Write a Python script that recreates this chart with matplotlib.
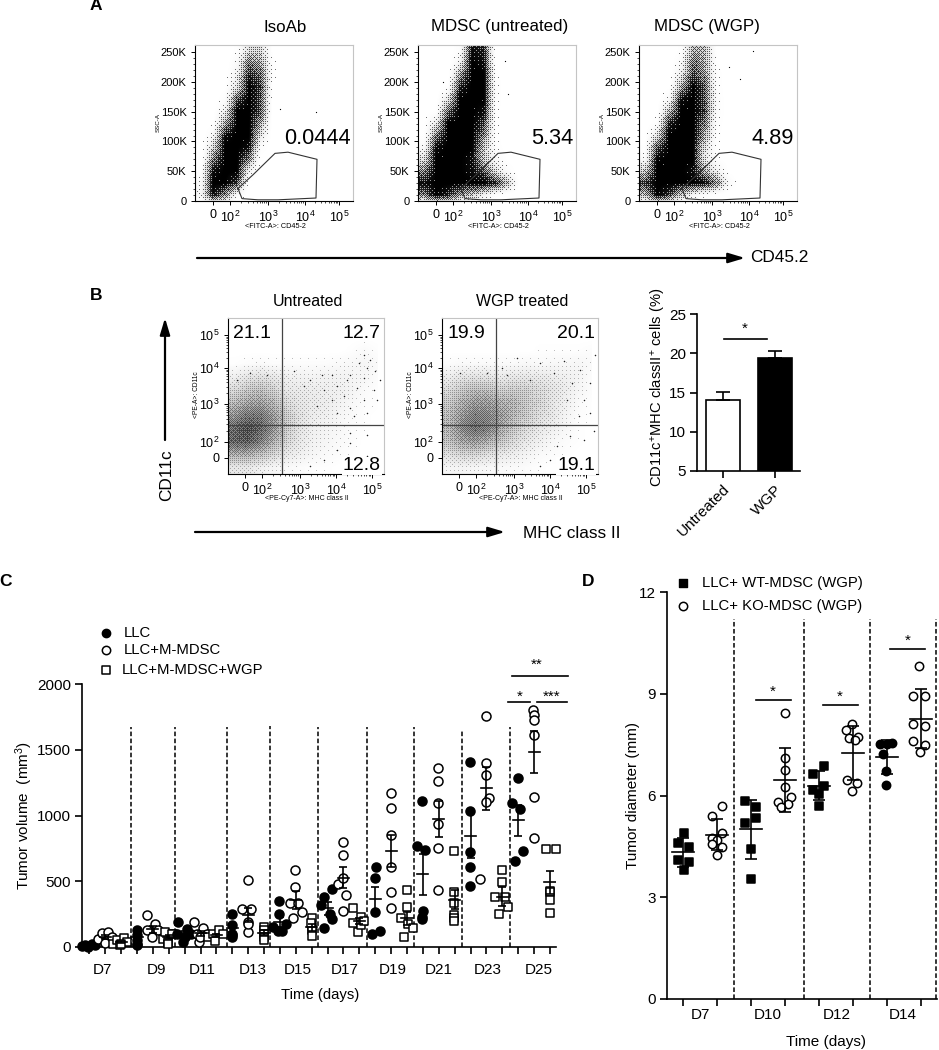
import numpy as np
import matplotlib
matplotlib.use('Agg')
import matplotlib.pyplot as plt

plt.rcParams['font.family'] = ['Liberation Sans', 'DejaVu Sans']
plt.rcParams['mathtext.fontset'] = 'custom'
plt.rcParams['mathtext.rm'] = 'Liberation Sans'
plt.rcParams['mathtext.default'] = 'regular'

W, H = 939, 1050

# panel A: ink coverage of the event cloud, cells of 12 px, top row first
a_titles = ['IsoAb', 'MDSC (untreated)', 'MDSC (WGP)']
a_numbers = ['0.0444', '5.34', '4.89']
cover_iso = [
    [0, 0, 0, .1, .45, .45, .05, 0, 0, 0],
    [0, 0, 0, .2, .75, .6, .1, 0, 0, 0],
    [0, 0, 0, .3, .9, .75, .1, 0, 0, 0],
    [0, 0, .05, .4, 1, .85, .05, 0, 0, 0],
    [0, 0, .15, .8, 1, .8, .03, 0, 0, 0],
    [0, .03, .3, 1, 1, .8, .02, 0, 0, 0],
    [0, .06, .6, 1, 1, .6, .01, 0, 0, 0],
    [0, .2, .95, 1, 1, .4, .01, 0, 0, 0],
    [0, .45, 1, 1, .95, .15, 0, 0, 0, 0],
    [.02, .7, 1, 1, .7, .03, 0, 0, 0, 0],
    [.1, .95, 1, 1, .3, 0, 0, 0, 0, 0],
    [.2, 1, 1, .85, .05, 0, 0, 0, 0, 0],
    [.25, .95, .7, .2, .01, 0, 0, 0, 0, 0],
]
cover_untreated = [
    [0, 0, 0, .15, .95, .9, .03, 0, 0, 0],
    [0, 0, 0, .3, 1, .95, .05, 0, 0, 0],
    [0, 0, .02, .65, 1, 1, .1, .01, 0, 0],
    [0, .01, .1, .9, 1, 1, .12, .01, 0, 0],
    [0, .03, .4, 1, 1, 1, .12, .01, 0, 0],
    [.02, .08, .75, 1, 1, .95, .1, .01, 0, 0],
    [.04, .35, 1, 1, 1, .85, .1, .01, 0, 0],
    [.06, .7, 1, 1, 1, .7, .1, .01, 0, 0],
    [.2, .95, 1, 1, 1, .5, .12, .02, 0, 0],
    [.4, 1, 1, 1, .95, .5, .2, .05, 0, 0],
    [.7, 1, 1, 1, .95, .8, .4, .15, .01, 0],
    [.95, 1, 1, 1, 1, 1, .9, .55, .03, 0],
    [.7, 1, .9, .65, .5, .3, .1, .02, 0, 0],
]
cover_wgp = [
    [0, 0, 0, .1, .6, .55, .05, 0, 0, 0],
    [0, 0, 0, .2, .75, .6, .08, 0, 0, 0],
    [0, 0, .01, .35, .85, .65, .12, .01, 0, 0],
    [0, 0, .05, .6, 1, .8, .12, .01, 0, 0],
    [0, .02, .2, .95, 1, .8, .15, .01, 0, 0],
    [0, .05, .55, 1, 1, .85, .15, .02, 0, 0],
    [.01, .12, .9, 1, 1, .7, .12, .01, 0, 0],
    [.03, .4, 1, 1, 1, .6, .1, .01, 0, 0],
    [.08, .8, 1, 1, 1, .4, .08, .01, 0, 0],
    [.2, .98, 1, 1, 1, .35, .1, .02, 0, 0],
    [.5, 1, 1, 1, .95, .6, .3, .05, 0, 0],
    [.85, 1, 1, 1, 1, .95, .7, .2, 0, 0],
    [.55, 1, .85, .5, .25, .12, .04, .01, 0, 0],
]
a_stray_x = [[85, 121], [52, 25, 87, 90], [114, 90, 101]]
a_stray_y = [[155, 150], [240, 200, 235, 180], [252, 225, 205]]
a_gate = [(43, 21), (58, 44), (80, 80), (93, 82), (122, 70), (121, 5), (83, 2), (63, 2), (47, 4), (43, 21)]
flow_xticks = [18, 35, 73, 110, 144]
flow_xlabels = ['0', '$10^2$', '$10^3$', '$10^4$', '$10^5$']

# panel B: same idea, 12 x 12 cells of 13 px
b_titles = ['Untreated', 'WGP treated']
density_untreated = [
    [0, 0, 0, 0, 0, 0, 0, 0, 0, 0, 0, 0],
    [0, 0, 0, 0, 0, 0, 0, 0, 0, 0, 0, 0],
    [0, 0, 0, 0, 0, 0, 0, 0, 0, .01, .03, .01],
    [.01, .02, .03, .02, .02, .02, .02, .02, .03, .04, .05, .03],
    [.08, .13, .15, .12, .08, .07, .06, .07, .07, .06, .05, .02],
    [.18, .25, .28, .22, .12, .11, .10, .09, .08, .06, .03, .01],
    [.30, .38, .40, .32, .18, .13, .11, .10, .07, .04, .02, .01],
    [.45, .55, .55, .42, .24, .15, .10, .08, .05, .03, .01, 0],
    [.60, .70, .62, .45, .25, .14, .08, .06, .04, .02, .01, 0],
    [.62, .65, .52, .35, .20, .12, .07, .05, .03, .02, 0, 0],
    [.35, .35, .28, .20, .12, .08, .05, .03, .02, .01, 0, 0],
    [.12, .12, .08, .05, .03, .02, .01, .01, 0, 0, 0, 0],
]
density_wgp = [
    [0, 0, 0, 0, 0, 0, 0, 0, 0, 0, 0, 0],
    [0, 0, 0, 0, 0, 0, 0, 0, 0, 0, 0, 0],
    [0, 0, 0, 0, 0, 0, 0, .01, .01, .01, .01, .02],
    [.02, .03, .03, .03, .03, .03, .04, .03, .04, .04, .05, .03],
    [.09, .13, .14, .14, .10, .12, .12, .11, .10, .08, .06, .02],
    [.18, .25, .30, .28, .22, .24, .22, .18, .14, .10, .05, .02],
    [.25, .35, .42, .42, .35, .32, .25, .20, .13, .08, .03, .01],
    [.30, .42, .52, .50, .42, .32, .24, .17, .12, .06, .02, .01],
    [.32, .48, .58, .52, .38, .26, .18, .12, .08, .04, .01, 0],
    [.28, .38, .42, .35, .26, .18, .12, .08, .04, .02, .01, 0],
    [.16, .20, .20, .16, .12, .09, .06, .03, .02, .01, 0, 0],
    [.05, .06, .05, .04, .03, .03, .02, .01, 0, 0, 0, 0],
]
# single dots that can be told apart in the sparse parts of panel B
dots_untreated_x = [136, 142, 131, 139, 147, 122, 66, 94, 104, 82, 119, 136, 152, 109, 129, 146, 96, 76, 116,
                    136, 149, 104, 122, 89, 139, 126, 109, 139, 122, 139, 109, 96, 82, 122, 39, 22, 9]
dots_untreated_y = [119, 114, 111, 106, 103, 99, 103, 99, 99, 94, 94, 96, 94, 88, 86, 84, 84, 88, 78,
                    74, 74, 74, 66, 68, 61, 58, 61, 39, 31, 18, 24, 14, 8, 41, 99, 101, 94]
dots_wgp_x = [75, 122, 153, 98, 138, 60, 45, 18, 112, 148, 130, 88, 65, 142, 125, 148, 137, 128, 115, 142,
              108, 98, 152]
dots_wgp_y = [116, 113, 119, 111, 104, 106, 101, 101, 101, 91, 91, 94, 99, 74, 74, 61, 58, 38, 28, 34,
              14, 8, 43]
b_numbers = [['21.1', '12.7', '12.8'], ['19.9', '20.1', '19.1']]

bar_names = ['Untreated', 'WGP']
bar_values = [14.0, 19.4]
bar_errs = [1.1, 0.9]

# panel C: one list per column, order LLC / LLC+M-MDSC / LLC+M-MDSC+WGP
c_x = [
    [-.48, -.27, -.06, .15, .36], [.57, .78, 1.15, .99, 1.41], [1.51, 1.72, 2.18, 1.93, 2.39, 1.97],
    [3, 3, 3, 3, 3], [3.61, 3.61, 4.13, 3.92, 4.34], [4.66, 4.76, 4.97, 5.29, 4.97, 5.18],
    [5.6, 5.92, 6.13, 6.38, 5.5, 6.02], [6.61, 7.17, 6.9, 6.75, 7.38, 6.96], [7.49, 7.8, 8.18, 7.91, 8.39],
    [9, 9, 9, 9, 9], [9.59, 10.15, 9.96, 9.96, 9.96, 10], [11, 11, 11, 11, 11],
    [11.96, 11.96, 11.58, 11.9, 12.38, 12.1], [12.94, 12.94, 13.36, 12.8, 12.63, 13.15],
    [13.99, 13.99, 13.99, 13.99, 13.93],
    [14.6, 14.8, 15.3, 14.8, 15.15, 15.3], [15.98, 15.98, 15.63, 15.98, 16.13, 15.98],
    [16.61, 16.61, 16.89, 17.1, 17.1, 17.29],
    [18.02, 17.98, 17.98, 17.81, 18.33], [18.98] * 6, [19.97, 19.97, 19.6, 20.07, 20.35, 19.8],
    [20.6, 21.12, 20.97, 21.02, 20.97, 20.97], [21.96] * 6, [22.97] * 6,
    [23.96] * 5, [24.96, 24.96, 24.96, 24.59, 25.17, 24.96], [25.97, 25.97, 25.53, 26.16, 26.37, 25.8],
    [26.98, 26.58, 27.12, 27.31, 26.83], [27.94, 28, 27.98, 27.98, 27.98, 27.98],
    [28.78, 29.35, 28.99, 28.99, 28.99, 28.99],
]
c_y = [
    [5, 12, 0, 25, 12], [63, 109, 114, 33, 76], [25, 50, 71, 13, 38, 25],
    [127, 89, 56, 25, 13], [241, 127, 177, 76, 127], [63, 114, 38, 101, 25, 101],
    [190, 38, 139, 101, 101, 76], [190, 147, 38, 101, 101, 76], [76, 101, 127, 46, 101],
    [253, 165, 101, 76, 89], [292, 286, 507, 190, 114, 177], [152, 127, 101, 76, 56],
    [347, 248, 152, 119, 177, 119], [585, 458, 268, 223, 332, 332], [218, 155, 129, 86, 180],
    [319, 383, 441, 147, 251, 210], [801, 700, 476, 522, 395, 276], [294, 180, 117, 231, 167, 200],
    [611, 527, 268, 99, 124], [1173, 1059, 851, 611, 415, 299], [433, 302, 218, 172, 142, 73],
    [768, 738, 1113, 274, 210, 231], [1364, 1262, 1098, 932, 753, 433], [727, 421, 332, 243, 223, 200],
    [1409, 1034, 720, 606, 464], [1759, 1402, 1308, 519, 1130, 1105], [585, 492, 383, 383, 307, 248],
    [1282, 1092, 1049, 730, 656], [1802, 1764, 1726, 1612, 1143, 829], [742, 742, 428, 421, 357, 256],
]
c_mean = [12, 75, 40, 75, 135, 75, 105, 105, 90, 145, 245, 110, 190, 357, 150,
          294, 527, 197, 362, 732, 218, 552, 973, 360, 846, 1206, 383, 963, 1480, 491]
c_err = [4, 15, 8, 20, 25, 15, 20, 20, 12, 30, 55, 16, 35, 70, 25,
         48, 82, 25, 91, 120, 48, 155, 135, 70, 170, 165, 70, 118, 160, 88]
c_days = ['D7', 'D9', 'D11', 'D13', 'D15', 'D17', 'D19', 'D21', 'D23', 'D25']
c_day_x = [.85, 4.25, 7.1, 10.3, 13.1, 16.1, 19.1, 22, 25.1, 28.3]
c_dash_x = [2.6, 5.39, 8.65, 11.37, 14.37, 17.5, 20.45, 23.44, 26.48]
c_dash_top = [1670, 1670, 1675, 1680, 1670, 1670, 1670, 1650, 1675]

# panel D: WT and KO columns alternate
d_x = [
    [.02, -.15, .17, -.15, .17, .02], [1.14, .85, 1.14, .85, 1, .85, 1.14, 1],
    [1.83, 2.16, 2.16, 1.83, 2.01, 2.01], [2.99, 2.99, 2.99, 2.99, 3.17, 2.8, 3.09, 2.89],
    [4.14, 3.82, 4.16, 3.82, 3.99, 3.99], [4.97, 4.79, 5.14, 4.87, 5.06, 4.82, 5.13, 4.97],
    [5.79, 6.14, 5.99, 5.89, 5.97, 5.97], [6.94, 6.77, 7.13, 6.77, 7.13, 6.77, 7.13, 6.96],
]
d_y = [
    [4.89, 4.59, 4.48, 4.10, 4.03, 3.81], [5.69, 5.41, 4.89, 4.74, 4.69, 4.56, 4.49, 4.25],
    [5.85, 5.66, 5.35, 5.18, 4.42, 3.54], [8.43, 7.10, 6.76, 6.24, 5.97, 5.80, 5.75, 5.66],
    [6.86, 6.64, 6.27, 6.17, 6.05, 5.70], [8.11, 7.94, 7.72, 7.69, 7.64, 6.46, 6.38, 6.12],
    [7.52, 7.54, 7.52, 7.23, 6.71, 6.31], [9.81, 8.92, 8.94, 8.11, 8.06, 7.61, 7.49, 7.27],
]
d_mean = [4.32, 4.84, 5.00, 6.46, 6.29, 7.26, 7.13, 8.27]
d_err = [.42, .46, .87, .95, .42, .79, .51, .88]
d_days = ['D7', 'D10', 'D12', 'D14']
d_day_x = [.5, 2.5, 4.52, 6.45]
d_dash_x = [1.51, 3.55, 5.5, 7.45]

# ordered dither matrix, only turns the read coverage into a grain
bayer = np.array([[0]])
for _ in range(3):
    bayer = np.block([[4 * bayer, 4 * bayer + 2], [4 * bayer + 3, 4 * bayer + 1]])
bayer = (bayer + 0.5) / bayer.size


def stipple(grid, cell, w, h, gamma=1.0, grain=0.5, pad_bottom=False):
    grid = np.array(grid, dtype=float)
    if pad_bottom:
        grid = np.vstack([grid, np.zeros(grid.shape[1])])
    cols = (np.arange(grid.shape[1]) + 0.5) * cell
    rows = (np.arange(grid.shape[0]) + 0.5) * cell
    by_row = np.array([np.interp(np.arange(w) + 0.5, cols, r, right=0) for r in grid])
    img = np.array([np.interp(np.arange(h) + 0.5, rows, c) for c in by_row.T]).T ** gamma
    yy, xx = np.mgrid[0:h, 0:w]
    return (1 - grain) * img + grain * (img > bayer[yy % 8, xx % 8])


def px_axes(left, top, right, bottom, **kw):
    return fig.add_axes([left / W, 1 - bottom / H, (right - left) / W, (bottom - top) / H], **kw)


def decade_minors(majors):
    out = []
    for a, b in zip(majors[1:-1], majors[2:]):
        out += [a + (b - a) * np.log10(k) for k in range(2, 10)]
    return out


def flow_axes(ax, xticks, xlabels):
    for side in ['top', 'right']:
        ax.spines[side].set_color('#c4c4c4')
        ax.spines[side].set_linewidth(0.8)
    ax.set_xticks(xticks)
    ax.set_xticklabels(xlabels, fontsize=9)
    ax.set_xticks(decade_minors(xticks), minor=True)
    ax.tick_params(length=3, width=0.7, pad=3)
    ax.tick_params(which='minor', length=1.5, width=0.5)


def graph_axes(ax, fs=11):
    ax.spines['top'].set_visible(False)
    ax.spines['right'].set_visible(False)
    ax.spines['left'].set_linewidth(1.2)
    ax.spines['bottom'].set_linewidth(1.2)
    ax.tick_params(width=1.2, length=5, labelsize=fs, pad=3)


def draw_stats(ax, x, mean, err, half, cap):
    ax.plot([x - half, x + half], [mean, mean], color='k', lw=1.2, zorder=4)
    ax.errorbar(x, mean, yerr=err, color='k', lw=1.2, capsize=cap, capthick=1.2, zorder=4)


fig = plt.figure(figsize=(W / 100, H / 100), dpi=100)
ov = fig.add_axes([0, 0, 1, 1], zorder=10)
ov.set_xlim(0, W)
ov.set_ylim(H, 0)
ov.axis('off')
ov.patch.set_alpha(0)

# panel A
a_left = [195, 418, 639]
a_title_x = [285, 500, 707]
a_num_x = [317, 552, 773]
a_cover = [cover_iso, cover_untreated, cover_wgp]
for i in range(3):
    ax = px_axes(a_left[i], 45, a_left[i] + 158, 201)
    ax.imshow(stipple(a_cover[i], 12, 158, 156, gamma=1.8, grain=0.55, pad_bottom=True),
              extent=[0, 158, 0, 262], cmap='gray_r', vmin=0, vmax=1, interpolation='nearest', aspect='auto')
    ax.scatter(a_stray_x[i], a_stray_y[i], s=0.8, color='k', lw=0)
    ax.plot(*zip(*a_gate), color='#333333', lw=0.8, zorder=5)
    ax.set_xlim(0, 158)
    ax.set_ylim(0, 262)
    ax.set_yticks([0, 50, 100, 150, 200, 250])
    ax.set_yticklabels(['0', '50K', '100K', '150K', '200K', '250K'], fontsize=8)
    ax.set_yticks(np.arange(0, 260, 10), minor=True)
    flow_axes(ax, flow_xticks, flow_xlabels)
    ov.text(a_title_x[i], 27, a_titles[i], fontsize=12.2, ha='center', va='center')
    ov.text(a_num_x[i], 139, a_numbers[i], fontsize=15.7, ha='center', va='center', zorder=6)
    ov.text(a_left[i] - 37, 122, 'SSC-A', fontsize=4.5, rotation=90, ha='center', va='center')
    ov.text(a_left[i] + 80, 226, '<FITC-A>: CD45-2', fontsize=5.2, ha='center', va='center')

# panel B flow plots
b_left = [228, 442]
b_dens = [density_untreated, density_wgp]
b_dots = [(dots_untreated_x, dots_untreated_y), (dots_wgp_x, dots_wgp_y)]
for i in range(2):
    ax = px_axes(b_left[i], 318, b_left[i] + 156, 474)
    ax.imshow(stipple(b_dens[i], 13, 156, 156, grain=0.25), extent=[0, 156, 0, 156], cmap='gray_r',
              vmin=0, vmax=1, interpolation='nearest', aspect='auto')
    ax.scatter(*b_dots[i], s=1.2, color='#222222', lw=0)
    ax.axvline(54, color='#444444', lw=0.9)
    ax.axhline(49, color='#444444', lw=0.9)
    ax.set_xlim(0, 156)
    ax.set_ylim(0, 156)
    ax.set_yticks([16, 32, 70, 106, 139])
    ax.set_yticklabels(flow_xlabels, fontsize=9)
    ax.set_yticks(decade_minors([16, 32, 70, 106, 139]), minor=True)
    flow_axes(ax, [17, 34, 72, 108, 144], flow_xlabels)
    ov.text(b_left[i] + 80, 301, b_titles[i], fontsize=11.5, ha='center', va='center')
    box = dict(facecolor='white', edgecolor='none', pad=0.5)
    ov.text(b_left[i] + 24, 333, b_numbers[i][0], fontsize=14, ha='center', va='center')
    ov.text(b_left[i] + 134, 333, b_numbers[i][1], fontsize=14, ha='center', va='center')
    ov.text(b_left[i] + 134, 466, b_numbers[i][2], fontsize=14, ha='center', va='center', bbox=box)
    ov.text(b_left[i] - 31, 395, '<PE-A>: CD11c', fontsize=4.8, rotation=90, ha='center', va='center')
    ov.text(b_left[i] + 79, 499, '<PE-Cy7-A>: MHC class II', fontsize=5, ha='center', va='center')

# bar chart
ax = px_axes(697, 314, 800, 471)
ax.bar(range(2), bar_values, width=0.66, color=['white', 'k'], edgecolor='k', linewidth=1.2,
       yerr=[[0, 0], bar_errs], capsize=5, error_kw={'lw': 1.2, 'capthick': 1.2})
ax.set_xlim(-0.505, 1.495)
ax.set_ylim(5, 25)
ax.set_yticks([5, 10, 15, 20, 25])
ax.set_xticks(range(2))
ax.set_xticklabels(bar_names, rotation=45, ha='right', rotation_mode='anchor')
graph_axes(ax)
ax.set_ylabel('CD11c$^{+}$MHC classII$^{+}$ cells (%)', fontsize=10.6, labelpad=1, y=0.53)

# panel C
ax = px_axes(82, 684, 556, 947)
markers = [('o', 'k'), ('o', 'white'), ('s', 'white')]
for i in range(30):
    m, fc = markers[i % 3]
    ax.scatter(c_x[i], c_y[i], marker=m, s=42 if m == 'o' else 36, facecolor=fc, edgecolor='k',
               linewidth=1.1, clip_on=False, zorder=3)
    draw_stats(ax, i, c_mean[i], c_err[i], 0.35, 3)
for x, top in zip(c_dash_x, c_dash_top):
    ax.plot([x, x], [0, top], color='k', ls='--', lw=1.1, dashes=(3, 1.6))
ax.set_xlim(-0.46, 29.38)
ax.set_ylim(0, 2000)
ax.set_yticks([0, 500, 1000, 1500, 2000])
ax.set_xticks(range(30))
ax.set_xticklabels([])
graph_axes(ax)
ax.set_ylabel('Tumor volume  (mm$^{3}$)', fontsize=11, labelpad=1)
for lab, x in zip(c_days, c_day_x):
    ax.text(x, -172, lab, fontsize=11, ha='center', va='center')
ov.text(320, 995, 'Time (days)', fontsize=10.7, ha='center', va='center')

ov.scatter([106], [633], marker='o', s=36, facecolor='k', edgecolor='k')
ov.scatter([106], [650], marker='o', s=36, facecolor='white', edgecolor='k', linewidth=1.1)
ov.scatter([106], [670], marker='s', s=32, facecolor='white', edgecolor='k', linewidth=1.1)
ov.text(124, 633, 'LLC', fontsize=10.7, va='center')
ov.text(124, 650, 'LLC+M-MDSC', fontsize=10.7, va='center')
ov.text(122, 670, 'LLC+M-MDSC+WGP', fontsize=10.7, va='center')
for x0, x1, y, tx, ty, s in [(512, 568, 676, 537, 665, '**'), (508, 530, 702, 520, 697, '*'),
                             (537, 567, 702, 552, 697, '***')]:
    ov.plot([x0, x1], [y, y], color='k', lw=1.2)
    ov.text(tx, ty, s, fontsize=11, ha='center', va='center')

# panel D
ax = px_axes(667, 592, 937, 999)
for i in range(8):
    wt = i % 2 == 0
    m = ('s' if i < 6 else 'o') if wt else 'o'
    ax.scatter(d_x[i], d_y[i], marker=m, s=36, facecolor='k' if wt else 'white', edgecolor='k',
               linewidth=1.1, clip_on=False, zorder=3)
    draw_stats(ax, i, d_mean[i], d_err[i], 0.32, 4)
for x in d_dash_x:
    ax.plot([x, x], [0, 11.2], color='k', ls='--', lw=1.1, dashes=(3, 1.6), clip_on=False)
ax.set_xlim(-0.47, 7.47)
ax.set_ylim(0, 12)
ax.set_yticks([0, 3, 6, 9, 12])
ax.set_xticks(range(8))
ax.set_xticklabels([])
graph_axes(ax)
ax.set_ylabel('Tumor diameter (mm)', fontsize=11, labelpad=-1)
for lab, x in zip(d_days, d_day_x):
    ax.text(x, -0.47, lab, fontsize=11, ha='center', va='center')
ov.text(826, 1042, 'Time (days)', fontsize=11, ha='center', va='center')
ov.scatter([683], [583], marker='s', s=30, facecolor='k', edgecolor='k')
ov.scatter([683], [606], marker='o', s=36, facecolor='white', edgecolor='k', linewidth=1.1)
ov.text(702, 583, 'LLC+ WT-MDSC (WGP)', fontsize=10.7, va='center')
ov.text(702, 606, 'LLC+ KO-MDSC (WGP)', fontsize=10.7, va='center')
for x0, x1, y, tx, ty in [(756, 791, 700, 773, 692), (823, 858, 705, 840, 697), (890, 925, 649, 908, 641)]:
    ov.plot([x0, x1], [y, y], color='k', lw=1.2)
    ov.text(tx, ty, '*', fontsize=11, ha='center', va='center')

# arrows and letters, drawn on the overlay
for start, end in [((197, 258), (745, 258)), ((195, 532), (505, 532)), ((165, 440), (165, 318))]:
    ov.annotate('', xy=end, xytext=start, arrowprops=dict(arrowstyle='-|>,head_length=1.0,head_width=0.3',
                                                          color='k', lw=1.6, shrinkA=0, shrinkB=0))
ov.text(750, 258, 'CD45.2', fontsize=12.4, va='center')
ov.text(523, 533, 'MHC class II', fontsize=12.4, va='center')
ov.text(167, 475, 'CD11c', fontsize=12.4, rotation=90, ha='center', va='center')
ov.plot([724, 767], [339, 339], color='k', lw=1.2)
ov.text(745, 329, '*', fontsize=11, ha='center', va='center')
for lab, x, y in [('A', 96, 6), ('B', 96, 296), ('C', 6, 581), ('D', 588, 581)]:
    ov.text(x, y, lab, fontsize=12.5, fontweight='bold', ha='center', va='center')

fig.savefig('out.png', dpi=100)
